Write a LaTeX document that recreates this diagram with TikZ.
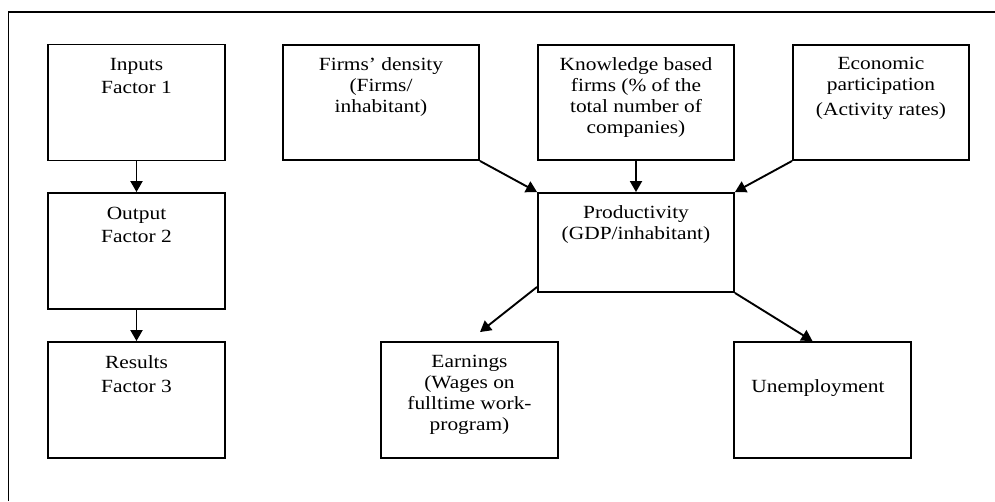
\documentclass[tikz,border=0pt]{standalone}
\usepackage{fontspec}
\setmainfont{Liberation Serif}[FakeStretch=1.15]
\usetikzlibrary{arrows.meta,positioning,calc}

\begin{document}
\begin{tikzpicture}[x=1pt,y=-1pt,
      box/.style={draw, line width=1.9pt, minimum width=177pt, minimum height=116pt, inner sep=0pt},
      txt/.style={anchor=north, align=center, inner sep=0pt, font=\fontsize{18.6}{21}\selectfont},
      link/.style={-{Triangle[length=11pt,width=12pt]}, line width=1.9pt}
    ]
    \useasboundingbox (0,0) rectangle (995,501);
    % frame (cut by the page)
    \draw[line width=1.9pt] (8.5,501) -- (8.5,12) -- (995,12);

    % factors on the left
    \node[box] (inp) at (136.5,102.5) {};
    \node[box] (outp) at (136.5,251) {};
    \node[box] (res) at (136.5,400) {};
    \node[txt] (inpTxt) at (136.5,58) {Inputs\\[2.5pt]Factor 1};
    \node[txt] (outTxt) at (136.5,206.5) {Output\\[2.5pt]Factor 2};
    \node[txt] (resTxt) at (136.5,355.5) {Results\\[2.5pt]Factor 3};

    % indicators
    \node[box, minimum width=196pt, minimum height=115pt] (dens) at (381,102.5) {};
    \node[box, minimum width=196pt, minimum height=115pt] (know) at (636,102.5) {};
    \node[box, minimum width=176pt, minimum height=115pt] (econ) at (881,102.5) {};
    \node[box, minimum width=196pt, minimum height=99pt] (prod) at (636,242.5) {};
    \node[box] (earn) at (469.5,400) {};
    \node[box] (unemp) at (822.5,400) {};

    \node[txt] (densTxt) at (381,57.5) {Firms’ density\\(Firms/\\inhabitant)};
    \node[txt] (knowTxt) at (636,57.5) {Knowledge based\\firms (\% of the\\total number of\\companies)};
    \node[txt] (econTxt) at (881,56.5) {Economic\\participation\\[4pt](Activity rates)};
    \node[txt] (prodTxt) at (636,205.5) {Productivity\\(GDP/inhabitant)};
    \node[txt] (earnTxt) at (469.5,354.5) {Earnings\\(Wages on\\fulltime work-\\program)};
    \node[txt] (unempTxt) at (818,379.5) {Unemployment};

    \coordinate (earnIn) at ($(earn.north)+(10.5,-9)$);

    \draw[link] (inp) -- (outp);
    \draw[link] (outp) -- (res);
    \draw[link] (dens.south east) -- (prod.north west);
    \draw[link] (know) -- (prod);
    \draw[link] (econ.south west) -- (prod.north east);
    \draw[link] ([yshift=6pt]prod.south west) -- (earnIn);
    \draw[link] (prod.south east) -- ([xshift=-10pt]unemp.north);
  \end{tikzpicture}
\end{document}
